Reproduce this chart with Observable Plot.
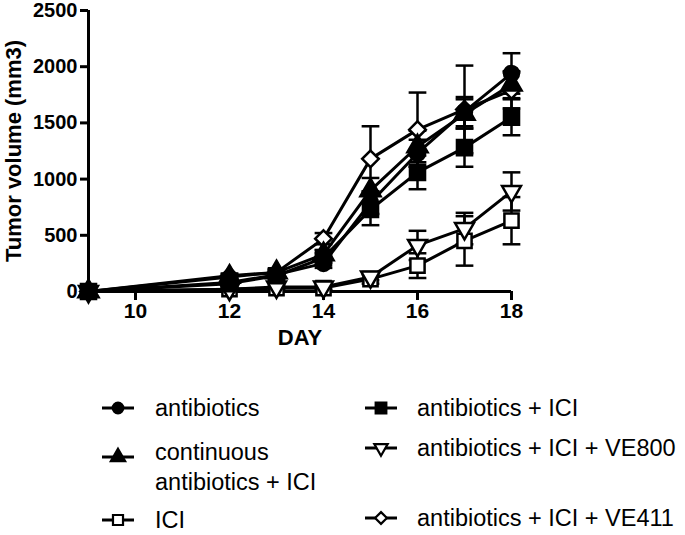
<!DOCTYPE html>
<html><head><meta charset="utf-8">
<script src="https://cdn.jsdelivr.net/npm/d3@7"></script>
<script src="https://cdn.jsdelivr.net/npm/@observablehq/plot@0.6"></script>
<style>
body{margin:0;background:#fff;font-family:"Liberation Sans",Arial,sans-serif;}
#chart svg,#legend svg{display:block}
</style></head><body>
<div id="chart"></div>
<div id="legend"></div>
<script>
// ---- data ----
const days = [9, 12, 13, 14, 15, 16, 17, 18];
const groups = ["antibiotics", "antibiotics + ICI", "continuous antibiotics + ICI",
                "antibiotics + ICI + VE800", "ICI", "antibiotics + ICI + VE411"];
const antibiotics      = [0, 80, 150, 250, 790, 1230, 1600, 1940];
const antibioticsErr   = [0, 20, 25, 40, 100, 120, 130, 180];
const abICI            = [0, 70, 140, 300, 730, 1060, 1280, 1550];
const abICIErr         = [0, 20, 25, 40, 140, 150, 170, 160];
const continuousAbICI  = [0, 130, 170, 330, 900, 1290, 1580, 1840];
const continuousErr    = [0, 25, 25, 40, 110, 140, 130, 120];
const abICIVE800       = [0, 20, 40, 40, 130, 410, 560, 890];
const abICIVE800Err    = [0, 10, 10, 20, 30, 130, 140, 170];
const ici              = [0, 20, 30, 30, 110, 230, 450, 630];
const iciErr           = [0, 10, 10, 20, 40, 110, 220, 210];
const abICIVE411       = [0, 140, 170, 470, 1180, 1440, 1620, 1790];
const abICIVE411Err    = [0, 20, 25, 50, 290, 330, 390, 160];
const xTicks = [10, 12, 14, 16, 18];
const yTicks = [0, 500, 1000, 1500, 2000, 2500];
const xTitle = "DAY";
const yTitle = "Tumor volume (mm3)";

const values = [antibiotics, abICI, continuousAbICI, abICIVE800, ici, abICIVE411];
const errors = [antibioticsErr, abICIErr, continuousErr, abICIVE800Err, iciErr, abICIVE411Err];

// ---- symbols ----
const triangleDown = {
  draw(ctx, size) {
    const s3 = Math.sqrt(3);
    const y = -Math.sqrt(size / (s3 * 3));
    ctx.moveTo(0, -y * 2);
    ctx.lineTo(-s3 * y, y);
    ctx.lineTo(s3 * y, y);
    ctx.closePath();
  }
};
const capSym = {
  draw(ctx, size) {
    const w = Math.sqrt(size);
    ctx.moveTo(-w / 2, 0);
    ctx.lineTo(w / 2, 0);
  }
};
const styleOf = {
  "antibiotics": {symbol: "circle", fill: "black", r: 7.5},
  "antibiotics + ICI": {symbol: "square", fill: "black", r: 8.5},
  "continuous antibiotics + ICI": {symbol: "triangle", fill: "black", r: 7.5},
  "antibiotics + ICI + VE800": {symbol: triangleDown, fill: "white", r: 7},
  "ICI": {symbol: "square", fill: "white", r: 8},
  "antibiotics + ICI + VE411": {symbol: "diamond2", fill: "white", r: 7.5}
};
// drawing order: open markers below, filled markers on top
const drawOrder = ["antibiotics + ICI + VE411", "ICI", "antibiotics + ICI + VE800",
                   "continuous antibiotics + ICI", "antibiotics", "antibiotics + ICI"];

const rows = groups.flatMap((g, gi) => days.map((d, i) => ({group: g, day: d, v: values[gi][i], e: errors[gi][i]})));
const errRows = rows.filter(d => d.e > 0);
const capRows = errRows.flatMap(d => [{day: d.day, y: d.v + d.e}, {day: d.day, y: d.v - d.e}]);

const font = "'Liberation Sans', Arial, sans-serif";
const chart = Plot.plot({
  width: 685, height: 345,
  marginLeft: 88, marginRight: 174, marginTop: 10, marginBottom: 54,
  style: {fontFamily: font, fontSize: "20px", fontWeight: "bold", background: "white", color: "black", overflow: "visible"},
  x: {domain: [9, 18]},
  y: {domain: [0, 2500]},
  marks: [
    Plot.axisX({ticks: xTicks, tickSize: 9, tickPadding: 3, strokeWidth: 3, fontSize: 21, fontWeight: "bold", label: null}),
    Plot.axisY({ticks: yTicks, tickSize: 8, tickPadding: 3, strokeWidth: 3, fontSize: 20, fontWeight: "bold",
                tickFormat: d3.format("d"), label: null}),
    Plot.text([xTitle], {text: d => d, frameAnchor: "bottom", lineAnchor: "middle", textAnchor: "middle",
                         dy: 46, fontSize: 22, fontWeight: "bold"}),
    Plot.text([yTitle], {text: d => d, frameAnchor: "left", lineAnchor: "middle", textAnchor: "middle",
                         rotate: -90, dx: -75, fontSize: 22, fontWeight: "bold"}),
    Plot.ruleX([9], {strokeWidth: 3}),
    Plot.ruleY([0], {strokeWidth: 3}),
    Plot.ruleX(errRows, {x: "day", y1: d => d.v - d.e, y2: d => d.v + d.e, strokeWidth: 2.5}),
    Plot.dot(capRows, {x: "day", y: "y", symbol: capSym, r: 10, stroke: "black", strokeWidth: 2.5, fill: "none"}),
    Plot.line(rows, {x: "day", y: "v", z: "group", stroke: "black", strokeWidth: 3}),
    ...drawOrder.map(g => Plot.dot(rows.filter(d => d.group === g), {
      x: "day", y: "v", symbol: styleOf[g].symbol, r: styleOf[g].r,
      fill: styleOf[g].fill, stroke: "black", strokeWidth: 2.5
    }))
  ]
});
document.getElementById("chart").append(chart);

// ---- legend ----
const legendItems = [
  {group: "antibiotics", lines: ["antibiotics"], col: 0, y: 63},
  {group: "antibiotics + ICI", lines: ["antibiotics + ICI"], col: 1, y: 63},
  {group: "continuous antibiotics + ICI", lines: ["continuous", "antibiotics + ICI"], col: 0, y: 112},
  {group: "antibiotics + ICI + VE800", lines: ["antibiotics + ICI + VE800"], col: 1, y: 103},
  {group: "ICI", lines: ["ICI"], col: 0, y: 175},
  {group: "antibiotics + ICI + VE411", lines: ["antibiotics + ICI + VE411"], col: 1, y: 173}
];
const colMarker = [118, 381], colText = [155, 417];
const lsvg = d3.select("#legend").append("svg").attr("width", 685).attr("height", 190);
for (const it of legendItems) {
  const s = styleOf[it.group];
  const cx = colMarker[it.col];
  const g = lsvg.append("g").attr("transform", `translate(${cx},${it.y})`);
  g.append("line").attr("x1", -16).attr("x2", 16).attr("stroke", "black").attr("stroke-width", 3);
  const symType = typeof s.symbol === "string" ? ({circle: d3.symbolCircle, square: d3.symbolSquare, triangle: d3.symbolTriangle, diamond2: d3.symbolDiamond2})[s.symbol] : s.symbol;
  g.append("path").attr("d", d3.symbol(symType, s.r * s.r * Math.PI * 0.5)()).attr("fill", s.fill).attr("stroke", "black").attr("stroke-width", 2.2);
  it.lines.forEach((t, li) => {
    lsvg.append("text").attr("x", colText[it.col]).attr("y", it.y + (it.lines.length > 1 ? -5 : 0) + li * 30)
      .attr("dy", "0.35em").attr("font-size", 23.5).attr("font-family", font).text(t);
  });
}
</script>
</body></html>
